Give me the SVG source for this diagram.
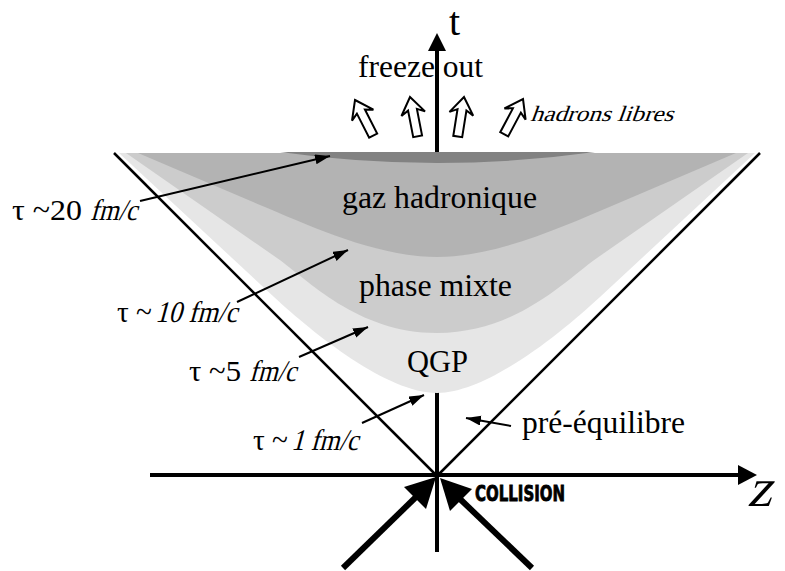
<svg xmlns="http://www.w3.org/2000/svg" width="785" height="571" viewBox="0 0 785 571">
<style>
.serif{font-family:"Liberation Serif","DejaVu Serif",serif;fill:#000}
.lab{font-size:32px}
.tau{font-size:30px}
.cone{stroke:#000;stroke-width:2.5;fill:none}
.thin{stroke:#000;stroke-width:2;fill:none;marker-end:url(#ah)}
.blk{fill:#fff;stroke:#000;stroke-width:2;stroke-linejoin:miter}
</style>
<defs>
<marker id="ah" markerUnits="userSpaceOnUse" markerWidth="16" markerHeight="12" refX="15" refY="5" orient="auto">
<path d="M0,0 L15,5 L0,10 z" fill="#000"/>
</marker>
<path id="hol" d="M0,0 L12,17 L4.5,13 L4.5,40 L-4.5,40 L-4.5,13 L-12,17 Z"/>
</defs>
<rect width="785" height="571" fill="#fff"/>

<g id="axes">
<line x1="437" y1="552" x2="437" y2="48" stroke="#000" stroke-width="4"/>
<polygon points="437,33 446,51 428,51" fill="#000"/>
<line x1="150" y1="475" x2="742" y2="475" stroke="#000" stroke-width="4"/>
<polygon points="757,475 738,465 738,485" fill="#000"/>
<text class="serif" x="449" y="35" font-size="40">t</text>
<g transform="translate(747,506) skewX(-16)"><text class="serif" x="0" y="0" font-size="54">z</text></g>
</g>

<g id="bands">
<path d="M119,153 L755,153 L600,297 C560,334 487,393 437,393 C387,393 314,334 274,297 Z" fill="#e6e6e6"/>
<path d="M126,153 L748,153 L597,258 C567,279 517,333 437,333 C357,333 307,279 277,258 Z" fill="#cccccc"/>
<path d="M138,153 L736,153 L614,205 C564,226 497,257 437,257 C377,257 310,226 260,205 Z" fill="#b3b3b3"/>
<path d="M280,152 L595,152 Q437,174 280,152 Z" fill="#828282"/>
</g>

<g id="cone">
<line class="cone" x1="114" y1="153" x2="437" y2="476"/>
<line class="cone" x1="760" y1="153" x2="437" y2="476"/>
</g>

<g id="freeze">
<text class="serif lab" x="358" y="77" textLength="125" lengthAdjust="spacingAndGlyphs">freeze out</text>
<use href="#hol" class="blk" transform="translate(355,100) rotate(-27)"/>
<use href="#hol" class="blk" transform="translate(410,97) rotate(-11)"/>
<use href="#hol" class="blk" transform="translate(464,97) rotate(9)"/>
<use href="#hol" class="blk" transform="translate(523,99) rotate(28)"/>
<g transform="translate(530,121) skewX(-20)"><text class="serif" x="0" y="0" font-size="22" textLength="143" lengthAdjust="spacingAndGlyphs">hadrons libres</text></g>
</g>

<g id="gaz"><text class="serif lab" x="342" y="208" textLength="195" lengthAdjust="spacingAndGlyphs">gaz hadronique</text></g>
<g id="mixte"><text class="serif lab" x="359" y="296" textLength="153" lengthAdjust="spacingAndGlyphs">phase mixte</text></g>
<g id="qgp"><text class="serif lab" x="407" y="372" textLength="61" lengthAdjust="spacingAndGlyphs">QGP</text></g>
<g id="pre"><text class="serif lab" x="522" y="433" textLength="163" lengthAdjust="spacingAndGlyphs">pré-équilibre</text></g>

<g id="tau20">
<text class="serif tau" x="12" y="220" textLength="70" lengthAdjust="spacingAndGlyphs">τ ~20</text>
<g transform="translate(90,220) skewX(-15)"><text class="serif tau" x="0" y="0" textLength="47" lengthAdjust="spacingAndGlyphs">fm/c</text></g>
</g>
<g id="tau10">
<text class="serif tau" x="117" y="322" textLength="35" lengthAdjust="spacingAndGlyphs">τ ~</text>
<g transform="translate(155,322) skewX(-15)"><text class="serif tau" x="0" y="0" textLength="82" lengthAdjust="spacingAndGlyphs">10 fm/c</text></g>
</g>
<g id="tau5">
<text class="serif tau" x="189" y="381" textLength="52" lengthAdjust="spacingAndGlyphs">τ ~5</text>
<g transform="translate(249,381) skewX(-15)"><text class="serif tau" x="0" y="0" textLength="47" lengthAdjust="spacingAndGlyphs">fm/c</text></g>
</g>
<g id="tau1">
<text class="serif tau" x="253" y="450" textLength="35" lengthAdjust="spacingAndGlyphs">τ ~</text>
<g transform="translate(291,450) skewX(-15)"><text class="serif tau" x="0" y="0" textLength="67" lengthAdjust="spacingAndGlyphs">1 fm/c</text></g>
</g>

<g id="collision">
<text x="475" y="501" font-family="'DejaVu Sans','Liberation Sans',sans-serif" font-weight="900" font-size="22" stroke="#000" stroke-width="0.9" textLength="90" lengthAdjust="spacingAndGlyphs">COLLISION</text>
</g>

<g id="connectors">
<line class="thin" x1="140" y1="201" x2="330" y2="156"/>
<line class="thin" x1="237" y1="302" x2="348" y2="250"/>
<line class="thin" x1="299" y1="357" x2="368" y2="327"/>
<line class="thin" x1="362" y1="423" x2="424" y2="395"/>
<line class="thin" x1="511" y1="426" x2="466" y2="418"/>
<line x1="343" y1="568" x2="416" y2="497" stroke="#000" stroke-width="6"/>
<polygon points="436,477 426,509 404,487" fill="#000"/>
<line x1="532" y1="568" x2="460" y2="499" stroke="#000" stroke-width="6"/>
<polygon points="440,478 472,489 450,511" fill="#000"/>
</g>
</svg>
